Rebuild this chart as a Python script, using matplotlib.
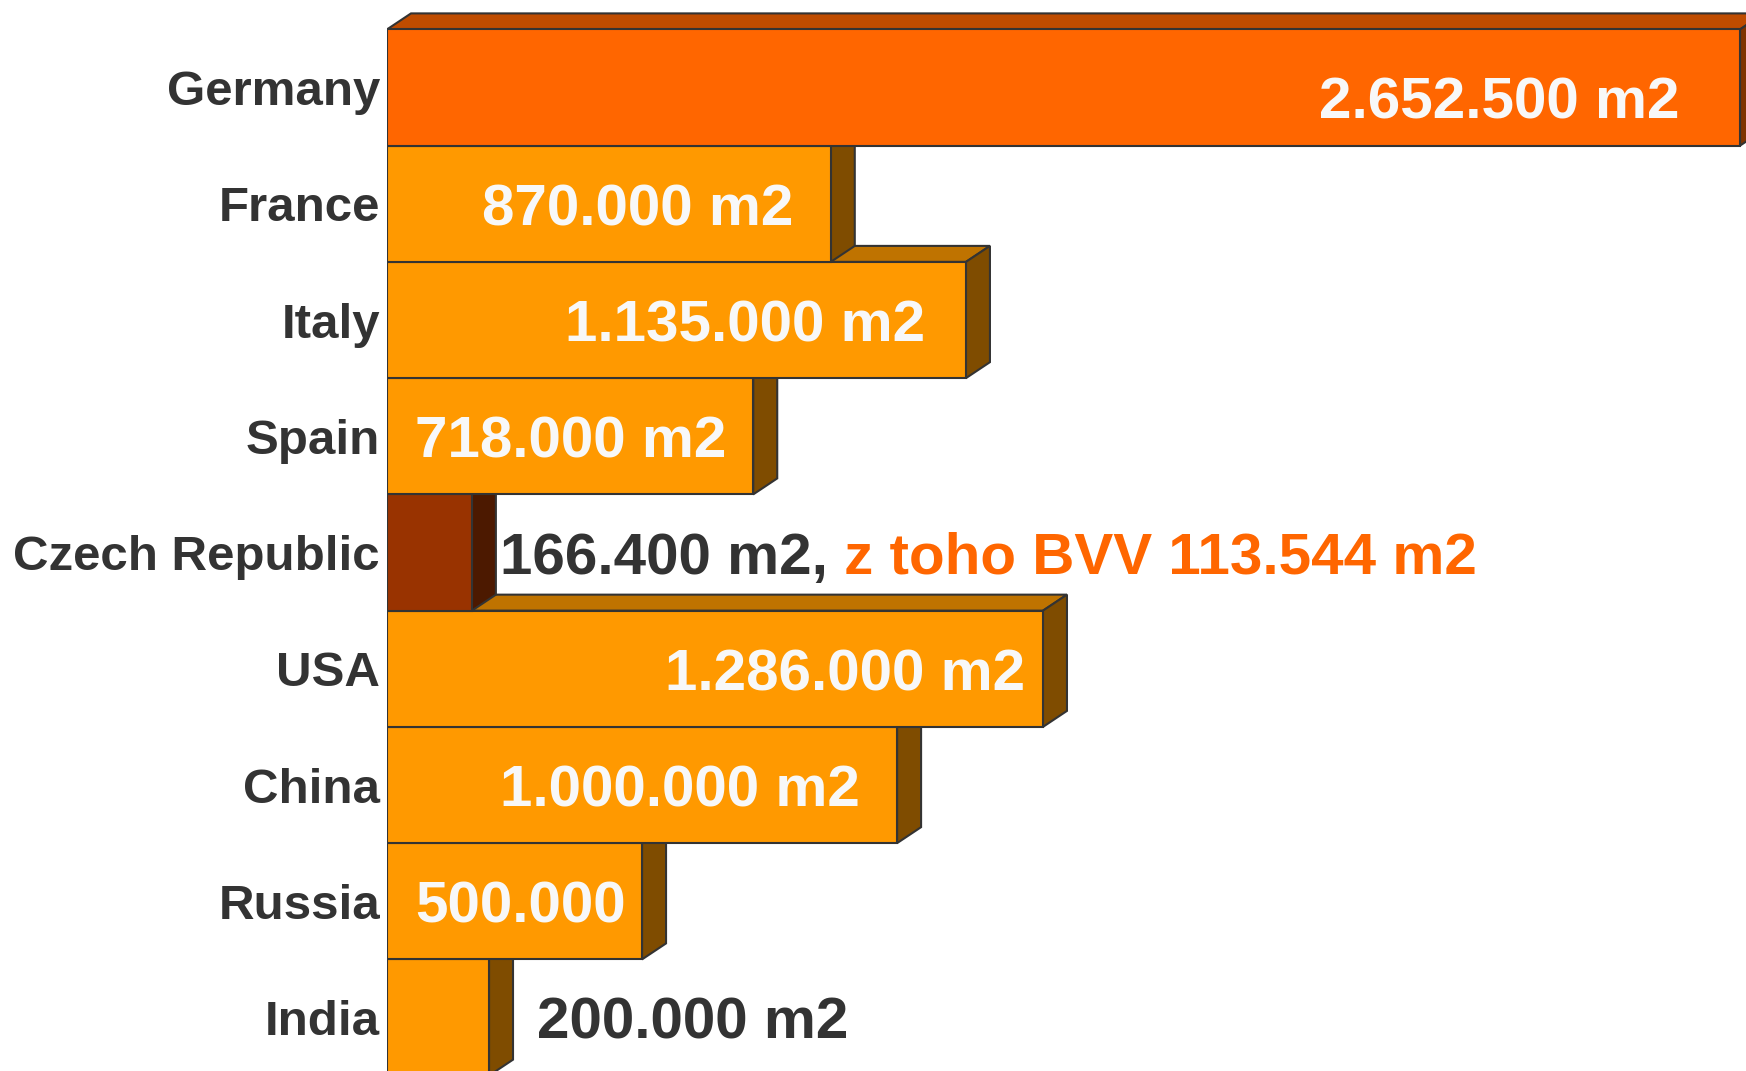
import matplotlib
matplotlib.use('Agg')
import matplotlib.pyplot as plt
from matplotlib.patches import Polygon

countries = ['Germany', 'France', 'Italy', 'Spain', 'Czech Republic',
             'USA', 'China', 'Russia', 'India']
areas = [2652500, 870000, 1135000, 718000, 166400, 1286000, 1000000, 500000, 200000]
value_labels = ['2.652.500 m2', '870.000 m2', '1.135.000 m2', '718.000 m2',
                '166.400 m2,', '1.286.000 m2', '1.000.000 m2', '500.000', '200.000 m2']
czech_note = 'z toho BVV 113.544 m2'
# where the value labels sit (in m2)
label_x = [2533000, 796000, 1054700, 664600, 221500, 1251700, 926500, 468200, 293500]
label_inside = [True, True, True, True, False, True, True, True, False]

# front / top / side colours per bar
front = ['#ff6600'] + ['#ff9900'] * 3 + ['#993300'] + ['#ff9900'] * 4
top = ['#bf4c00'] + ['#bf7300'] * 3 + ['#732600'] + ['#bf7300'] * 4
side = ['#7f3300'] + ['#7f4c00'] * 3 + ['#4c1900'] + ['#7f4c00'] * 4

plt.rcParams['font.family'] = ['Liberation Sans', 'DejaVu Sans']
edge = '#333333'
dark = '#333333'

W, H = 1746, 1071
left_px = 387
px_per_m2 = 1353 / 2652500
row_px = 116.25
top_px = 29.4

fig = plt.figure(figsize=(W / 100, H / 100), dpi=100)
ax = fig.add_axes([left_px / W, 0, 1 - left_px / W, 1])
ax.set_xlim(0, (W - left_px) / px_per_m2)
ax.set_ylim((H - top_px) / row_px, -top_px / row_px)

# 3d depth of the bars
ddx = 24 / px_per_m2
ddy = 16 / row_px

bars = ax.barh([i + 0.5 for i in range(len(areas))], areas, height=1.0, left=0,
               color=front, edgecolor=edge, linewidth=1.5)

n = len(areas)
for i in reversed(range(n)):
    v = areas[i]
    y0, y1 = i, i + 1
    z = 10 + (n - i) * 3
    top_face = Polygon([(0, y0), (ddx, y0 - ddy), (v + ddx, y0 - ddy), (v, y0)],
                       closed=True, facecolor=top[i], edgecolor=edge, linewidth=1.5,
                       zorder=z, joinstyle='miter')
    side_face = Polygon([(v, y0), (v + ddx, y0 - ddy), (v + ddx, y1 - ddy), (v, y1)],
                        closed=True, facecolor=side[i], edgecolor=edge, linewidth=1.5,
                        zorder=z + 1, joinstyle='miter')
    ax.add_patch(top_face)
    ax.add_patch(side_face)
    bars.patches[i].set_zorder(z + 2)

label_dy = [0.14] + [0.055] * 8
for i in range(n):
    if label_inside[i]:
        ax.text(label_x[i], i + 0.5 + label_dy[i], value_labels[i], ha='right', va='center',
                fontsize=42, fontweight='bold', color='#f8f8f8', zorder=100)
    else:
        t = ax.text(label_x[i], i + 0.5 + label_dy[i], value_labels[i], ha='left', va='center',
                    fontsize=42, fontweight='bold', color=dark, zorder=100)
        if countries[i] == 'Czech Republic':
            ax.annotate(czech_note, xy=(1, 0), xycoords=t, xytext=(16, 0),
                        textcoords='offset pixels', ha='left', va='bottom',
                        fontsize=42, fontweight='bold', color='#ff6600', zorder=100)

ax.set_yticks([i + 0.5 for i in range(n)])
ax.set_yticklabels(countries, fontsize=35.5, fontweight='bold', color=dark)
ax.tick_params(axis='y', length=0, pad=5)
ax.set_xticks([])
for s in ax.spines.values():
    s.set_visible(False)

fig.savefig('out.png', dpi=100)
